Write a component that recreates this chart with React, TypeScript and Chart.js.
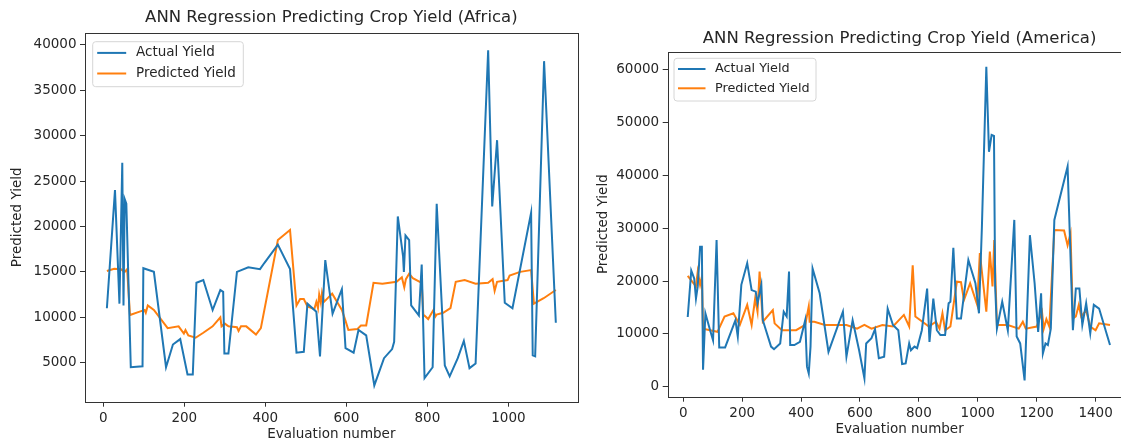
import React, { useEffect, useRef } from 'react';
import { Chart, registerables } from 'chart.js';

Chart.register(...registerables);

const FONT = "'DejaVu Sans', 'Liberation Sans', sans-serif";
const TEXT = '#262626';
const BLUE = '#1f77b4';
const ORANGE = '#ff7f0e';

// ---------- Africa ----------
const africaActualX = [9, 29, 40, 47, 50, 53, 57, 68, 97, 99, 125, 155, 172, 190, 208, 221, 230, 247, 270, 289, 296, 299, 309, 330, 358, 387, 398, 431, 461, 477, 495, 504, 526, 535, 548, 566, 589, 598, 618, 630, 649, 669, 693, 713, 718, 727, 740, 742, 746, 755, 760, 779, 786, 793, 813, 823, 843, 855, 875, 890, 904, 919, 950, 960, 972, 991, 1010, 1056, 1060, 1066, 1088, 1117];
const africaActualY = [11000, 24000, 11500, 27000, 11300, 23000, 22500, 4500, 4600, 15400, 15000, 4500, 7000, 7600, 3700, 3700, 13800, 14100, 10800, 13000, 12800, 6000, 6000, 15000, 15500, 15300, 16000, 18000, 15300, 6100, 6200, 11500, 10600, 5700, 16300, 10400, 13100, 6600, 6100, 8600, 8000, 2500, 5500, 6500, 7300, 21100, 16700, 15000, 19000, 18500, 11300, 10200, 15800, 3300, 4500, 22500, 4700, 3500, 5500, 7400, 4400, 4900, 39400, 22200, 29500, 11600, 11000, 21500, 5800, 5700, 38200, 9400];
const africaPredX = [9, 27, 44, 53, 59, 66, 88, 102, 105, 110, 125, 159, 186, 199, 203, 210, 228, 247, 270, 289, 292, 300, 309, 330, 334, 340, 353, 377, 389, 431, 461, 477, 486, 495, 504, 521, 526, 530, 533, 537, 540, 545, 565, 589, 598, 605, 627, 636, 649, 667, 689, 724, 737, 743, 747, 755, 764, 786, 790, 802, 815, 820, 823, 839, 857, 870, 892, 919, 950, 961, 966, 972, 998, 1003, 1029, 1056, 1063, 1087, 1117];
const africaPredY = [15100, 15350, 15280, 15000, 15300, 10250, 10600, 10800, 10500, 11300, 10800, 8800, 9000, 8200, 8600, 8000, 7750, 8300, 9000, 10000, 9000, 9300, 9000, 8900, 8500, 9000, 9000, 8100, 8800, 18500, 19600, 11300, 12000, 12000, 11200, 10900, 11700, 11000, 12500, 11600, 12700, 11700, 12600, 10800, 9600, 8600, 8700, 9100, 9100, 13800, 13700, 13900, 14400, 13300, 14200, 14800, 14300, 13800, 10300, 9800, 10800, 10100, 10300, 10500, 11000, 13900, 14100, 13700, 13800, 14200, 12900, 13900, 14100, 14600, 15000, 15200, 11500, 12100, 13000];
const africaXTicks = [0, 200, 400, 600, 800, 1000];
const africaYTicks = [5000, 10000, 15000, 20000, 25000, 30000, 35000, 40000];

// ---------- America ----------
const americaActualX = [15, 27, 37, 43, 49, 57, 63, 67, 75, 91, 101, 113, 122, 142, 177, 185, 197, 217, 232, 246, 252, 265, 270, 298, 308, 329, 341, 351, 359, 363, 377, 396, 414, 420, 426, 432, 439, 463, 493, 542, 554, 575, 597, 615, 621, 639, 651, 664, 682, 694, 712, 730, 743, 755, 767, 773, 785, 794, 810, 828, 836, 849, 861, 873, 889, 901, 907, 917, 929, 943, 968, 992, 1004, 1014, 1029, 1038, 1047, 1055, 1059, 1065, 1083, 1102, 1124, 1132, 1144, 1159, 1177, 1193, 1205, 1215, 1221, 1230, 1238, 1248, 1260, 1305, 1323, 1333, 1345, 1355, 1368, 1382, 1394, 1412, 1449];
const americaActualY = [13200, 22000, 20500, 16700, 19000, 26500, 26500, 3200, 13900, 10700, 8800, 27800, 7450, 7450, 12600, 9500, 19300, 23400, 18300, 18000, 15800, 19300, 12600, 7600, 7100, 8200, 14200, 13300, 21800, 7900, 7900, 8500, 12600, 3800, 2500, 7600, 22400, 17700, 6600, 14200, 5700, 12600, 6900, 1600, 8200, 9200, 10900, 5400, 5700, 14800, 11700, 10700, 4300, 4400, 8200, 6900, 7600, 7300, 10700, 18600, 8500, 16700, 10700, 9800, 9800, 15800, 16100, 26300, 12900, 12900, 24000, 19600, 13900, 30300, 60600, 44500, 47700, 47500, 19000, 11000, 16100, 10700, 31600, 9500, 8200, 1200, 28700, 19600, 10400, 17700, 6300, 8200, 7900, 11000, 31600, 41700, 10700, 18600, 18600, 11700, 15800, 10100, 15500, 14800, 7900];
const americaPredX = [15, 43, 49, 57, 63, 67, 91, 116, 140, 170, 192, 217, 232, 244, 252, 259, 270, 304, 310, 335, 383, 414, 426, 429, 445, 481, 554, 590, 615, 639, 676, 712, 749, 767, 779, 788, 834, 858, 870, 880, 889, 907, 929, 943, 953, 974, 998, 1007, 1029, 1041, 1050, 1056, 1065, 1102, 1139, 1153, 1163, 1200, 1218, 1224, 1233, 1243, 1260, 1293, 1305, 1315, 1323, 1333, 1343, 1351, 1368, 1382, 1400, 1412, 1449];
const americaPredY = [21000, 19000, 21800, 19300, 20800, 11000, 10700, 10400, 13300, 13900, 11700, 15500, 11700, 16700, 14200, 21800, 12300, 14500, 12000, 10700, 10700, 11700, 15200, 12300, 12300, 11700, 11700, 11000, 11700, 11000, 11700, 11400, 13600, 11400, 23000, 13300, 11400, 12300, 11000, 13900, 10700, 11400, 19900, 19800, 16400, 19600, 15500, 25300, 14200, 25600, 19000, 27800, 11700, 11700, 11000, 12300, 11000, 11400, 14200, 11000, 12800, 11400, 29700, 29600, 26800, 29000, 12900, 13300, 15500, 13300, 14500, 11400, 10700, 12000, 11700];
const americaXTicks = [0, 200, 400, 600, 800, 1000, 1200, 1400];
const americaYTicks = [0, 10000, 20000, 30000, 40000, 50000, 60000];

const frameAndLegend = {
  id: 'frameAndLegend',
  afterDraw(chart: any, _args: any, opts: any) {
    const { ctx, chartArea: a } = chart;
    ctx.save();
    ctx.strokeStyle = '#333333';
    ctx.lineWidth = 1;
    const l = Math.round(a.left) + 0.5;
    const t = Math.round(a.top) + 0.5;
    const r = Math.round(a.right) + 0.5;
    const b = Math.round(a.bottom) + 0.5;
    ctx.strokeRect(l, t, r - l, b - t);

    const L = opts.legend;
    const bx = a.left + L.dx;
    const by = a.top + L.dy;
    const rad = 3;
    ctx.beginPath();
    ctx.moveTo(bx + rad, by);
    ctx.lineTo(bx + L.w - rad, by);
    ctx.arcTo(bx + L.w, by, bx + L.w, by + rad, rad);
    ctx.lineTo(bx + L.w, by + L.h - rad);
    ctx.arcTo(bx + L.w, by + L.h, bx + L.w - rad, by + L.h, rad);
    ctx.lineTo(bx + rad, by + L.h);
    ctx.arcTo(bx, by + L.h, bx, by + L.h - rad, rad);
    ctx.lineTo(bx, by + rad);
    ctx.arcTo(bx, by, bx + rad, by, rad);
    ctx.closePath();
    ctx.fillStyle = 'rgba(255,255,255,0.85)';
    ctx.fill();
    ctx.strokeStyle = '#d6d6d6';
    ctx.stroke();

    const rows = [L.row1, L.row2];
    chart.data.datasets.forEach((ds: any, i: number) => {
      const yy = by + rows[i];
      ctx.beginPath();
      ctx.strokeStyle = ds.borderColor;
      ctx.lineWidth = 2;
      ctx.moveTo(bx + L.s0, yy);
      ctx.lineTo(bx + L.s1, yy);
      ctx.stroke();
      ctx.fillStyle = TEXT;
      ctx.font = `${L.fontSize}px ${FONT}`;
      ctx.textBaseline = 'middle';
      ctx.textAlign = 'left';
      ctx.fillText(ds.label, bx + L.tx, yy);
    });
    ctx.restore();
  },
};

function pts(xs: number[], ys: number[]) {
  return xs.map((x, i) => ({ x, y: ys[i] }));
}

function makeConfig(p: any) {
  const tickFont = { family: FONT, size: 13.5 };
  return {
    type: 'line',
    data: {
      datasets: [
        { label: 'Actual Yield', data: pts(p.ax, p.ay), borderColor: BLUE, backgroundColor: BLUE, borderWidth: 2, pointRadius: 0, tension: 0, fill: false },
        { label: 'Predicted Yield', data: pts(p.px, p.py), borderColor: ORANGE, backgroundColor: ORANGE, borderWidth: 2, pointRadius: 0, tension: 0, fill: false },
      ],
    },
    options: {
      responsive: false,
      animation: false,
      events: [],
      layout: { padding: { left: 0, right: p.padRight, top: 0, bottom: 0 } },
      scales: {
        x: {
          type: 'linear',
          min: p.xMin,
          max: p.xMax,
          afterBuildTicks: (s: any) => { s.ticks = p.xTicks.map((v: number) => ({ value: v })); },
          afterFit: (s: any) => { s.height = p.xH; },
          grid: { display: true, drawOnChartArea: false, drawTicks: true, tickLength: 5, color: '#333333', lineWidth: 1 },
          border: { display: false },
          ticks: { color: TEXT, font: tickFont, padding: 3.5, maxRotation: 0, autoSkip: false, callback: (v: any) => String(v) },
          title: { display: true, text: 'Evaluation number', color: TEXT, font: tickFont, padding: { top: 0, bottom: p.xTitlePad } },
        },
        y: {
          type: 'linear',
          min: p.yMin,
          max: p.yMax,
          afterBuildTicks: (s: any) => { s.ticks = p.yTicks.map((v: number) => ({ value: v })); },
          afterFit: (s: any) => { s.width = p.yW; },
          grid: { display: true, drawOnChartArea: false, drawTicks: true, tickLength: 5, color: '#333333', lineWidth: 1 },
          border: { display: false },
          ticks: { color: TEXT, font: tickFont, padding: 3.5, autoSkip: false, callback: (v: any) => String(v) },
          title: { display: true, text: 'Predicted Yield', color: TEXT, font: tickFont, padding: { top: p.yTitlePad, bottom: 0 } },
        },
      },
      plugins: {
        legend: { display: false },
        tooltip: { enabled: false },
        title: {
          display: true,
          text: p.title,
          color: TEXT,
          fullSize: false,
          font: { family: FONT, size: 16.5, weight: 'normal', lineHeight: 1.2 },
          padding: { top: p.titlePadTop, bottom: p.titlePadBottom },
        },
        frameAndLegend: { legend: p.legend },
      },
    },
    plugins: [frameAndLegend],
  } as any;
}

const africaParams = {
  title: 'ANN Regression Predicting Crop Yield (Africa)',
  ax: africaActualX, ay: africaActualY, px: africaPredX, py: africaPredY,
  xTicks: africaXTicks, yTicks: africaYTicks,
  xMin: -45, xMax: 1171, yMin: 705, yMax: 41300,
  padRight: 22.3, xH: 39.3, yW: 85,
  xTitlePad: -1.6, yTitlePad: 8.9,
  titlePadTop: 8.1, titlePadBottom: 5.1,
  legend: { dx: 7.7, dy: 8.7, w: 150.6, h: 45, s0: 4.5, s1: 33.5, tx: 43.3, row1: 11.2, row2: 31.8, fontSize: 13.5 },
};

const americaParams = {
  title: 'ANN Regression Predicting Crop Yield (America)',
  ax: americaActualX, ay: americaActualY, px: americaPredX, py: americaPredY,
  xTicks: americaXTicks, yTicks: americaYTicks,
  xMin: -53, xMax: 1522, yMin: -1894, yMax: 63466,
  padRight: 48.5, xH: 44.3, yW: 87.7,
  xTitlePad: 3.9, yTitlePad: 15.2,
  titlePadTop: 28.4, titlePadBottom: 3.5,
  legend: { dx: 6.3, dy: 6.6, w: 142, h: 42.7, s0: 4, s1: 31.5, tx: 41, row1: 10.7, row2: 30, fontSize: 12.8 },
};

export default function App() {
  const leftRef = useRef<HTMLCanvasElement>(null);
  const rightRef = useRef<HTMLCanvasElement>(null);

  useEffect(() => {
    const c1 = new Chart(leftRef.current as HTMLCanvasElement, makeConfig(africaParams));
    const c2 = new Chart(rightRef.current as HTMLCanvasElement, makeConfig(americaParams));
    return () => {
      c1.destroy();
      c2.destroy();
    };
  }, []);

  return (
    <div style={{ position: 'fixed', left: 0, top: 0, width: 1121, height: 441, overflow: 'hidden', background: '#ffffff' }}>
      <canvas ref={leftRef} width={600} height={441} style={{ position: 'absolute', left: 0, top: 0, width: 600, height: 441 }} />
      <canvas ref={rightRef} width={600} height={441} style={{ position: 'absolute', left: 580, top: 0, width: 600, height: 441 }} />
    </div>
  );
}
